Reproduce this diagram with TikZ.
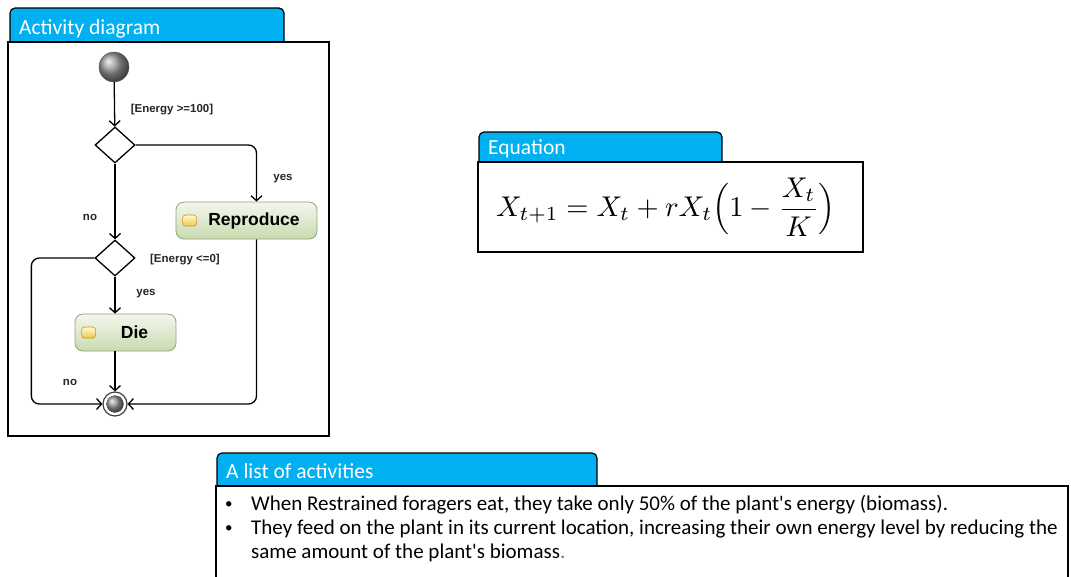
\documentclass[tikz,border=0pt]{standalone}
\usepackage{fontspec}
\setmainfont{Carlito}
\newfontfamily\arialfont{Liberation Sans}
\usetikzlibrary{positioning,calc,shapes.geometric,arrows.meta}
\definecolor{tabblue}{HTML}{00B0F0}
\definecolor{actborder}{HTML}{8EA67A}
\definecolor{acttop}{HTML}{F3F7EC}
\definecolor{actbottom}{HTML}{CADAB0}
\definecolor{icontop}{HTML}{FFFBD2}
\definecolor{iconbottom}{HTML}{F0C646}
\definecolor{iconborder}{HTML}{C8961E}

\begin{document}
\begin{tikzpicture}[x=1pt,y=-1pt,
  tab/.style={draw=black,line width=1.2pt,fill=tabblue,rounded corners=5pt},
  panel/.style={draw=black,line width=1.8pt,fill=white},
  tabtitle/.style={anchor=base west,text=white,inner sep=0pt,font=\fontsize{21.5}{24}\selectfont},
  decision/.style={draw,diamond,line width=1.3pt,minimum width=40pt,minimum height=36pt,inner sep=0pt},
  activity/.style={draw=actborder,line width=0.8pt,rounded corners=8pt,top color=acttop,
    bottom color=actbottom,minimum height=37pt,inner sep=0pt,
    font=\arialfont\bfseries\fontsize{17.5}{20}\selectfont},
  icon/.style={draw=iconborder,line width=0.6pt,rounded corners=3pt,top color=icontop,
    bottom color=iconbottom,minimum width=14pt,minimum height=11pt,inner sep=0pt},
  guard/.style={font=\arialfont\bfseries\fontsize{11.5}{13}\selectfont,text=black!85},
  flow/.style={line width=1.3pt,rounded corners=8pt,
    -{Straight Barb[length=5pt,width=11pt,line width=1.3pt]}},
  bullet/.style={anchor=base west,align=left,inner sep=0pt,
    font=\fontsize{21}{24.3}\selectfont},
]
  \useasboundingbox (0,0) rectangle (1071,576);
  \clip (0,0) rectangle (1071,576);

  % panels with their tabs
  \foreach \px/\py/\pw/\ph/\tx/\ty/\tw/\title in {
    8/42/321/394/10/8/274/{Activity diagram},
    478/162/385/90/479/132/243/{Equation},
    216/486/852/130/217/453/380/{A list of activities}} {
    \draw[tab] (\tx,\ty) rectangle (\tx+\tw,\py+10);
    \draw[panel] (\px,\py) rectangle (\px+\pw,\py+\ph);
    \node[tabtitle] at (\tx+9,\py-8) {\title};
  }

  % activity diagram
  \node[circle,minimum size=30pt,inner sep=0pt,ball color=black!40,draw=black!65] (start) at (114,67) {};
  \node[decision] (dec1) at (115,145) {};
  \node[decision] (dec2) at (115,258) {};
  \node[activity,minimum width=141pt] (repro) at (246.5,220.5) {\hspace*{15pt}Reproduce};
  \node[activity,minimum width=101pt] (die) at (125.5,332.5) {\hspace*{18pt}Die};
  \node[icon] at ([xshift=14pt]repro.west) {};
  \node[icon] at ([xshift=14pt]die.west) {};
  \node[circle,draw=black!75,fill=white,line width=1.2pt,minimum size=24pt,inner sep=0pt] (final) at (115,404) {};
  \fill[ball color=black!40] (final) circle (8.5);
  \coordinate (reproin) at ([xshift=10pt]repro.north);
  \coordinate (reproout) at ([xshift=10pt]repro.south);

  \draw[flow] (start) -- (dec1);
  \draw[flow] (dec1.east) -| (reproin);
  \draw[flow] (dec1) -- (dec2);
  \draw[flow] (dec2) -- (dec2 |- die.north);
  \draw[flow] (dec2 |- die.south) -- (final);
  \draw[flow] (dec2.west) -- ++(-63,0) |- (final.west);
  \draw[flow] (reproout) |- (final.east);

  \node[guard] at (172,110) {[Energy >=100]};
  \node[guard] at (283,179) {yes};
  \node[guard] at (90,217) {no};
  \node[guard] at (185,260) {[Energy <=0]};
  \node[guard] at (146,294) {yes};
  \node[guard] at (70,382) {no};

  % equation
  \node (eq) at (666,207) {\scalebox{2.85}{$X_{t+1} = X_t + rX_t\Bigl(1-{\displaystyle\frac{X_t}{K}}\Bigr)$}};

  % list of activities (text base is that of its last line)
  \foreach \y/\ylast/\txt in {
    510/510/{When Restrained foragers eat, they take only 50\% of the plant\textquotesingle s energy (biomass).},
    534.5/558.8/{They feed on the plant in its current location, increasing their own energy level by reducing the\\same amount of the plant\textquotesingle s biomass\textcolor{black!40!blue!60}{.}}} {
    \node[bullet,font=\fontsize{15}{15}\selectfont] at (225,\y-2) {\textbullet};
    \node[bullet] at (251,\ylast) {\txt};
  }
\end{tikzpicture}
\end{document}
